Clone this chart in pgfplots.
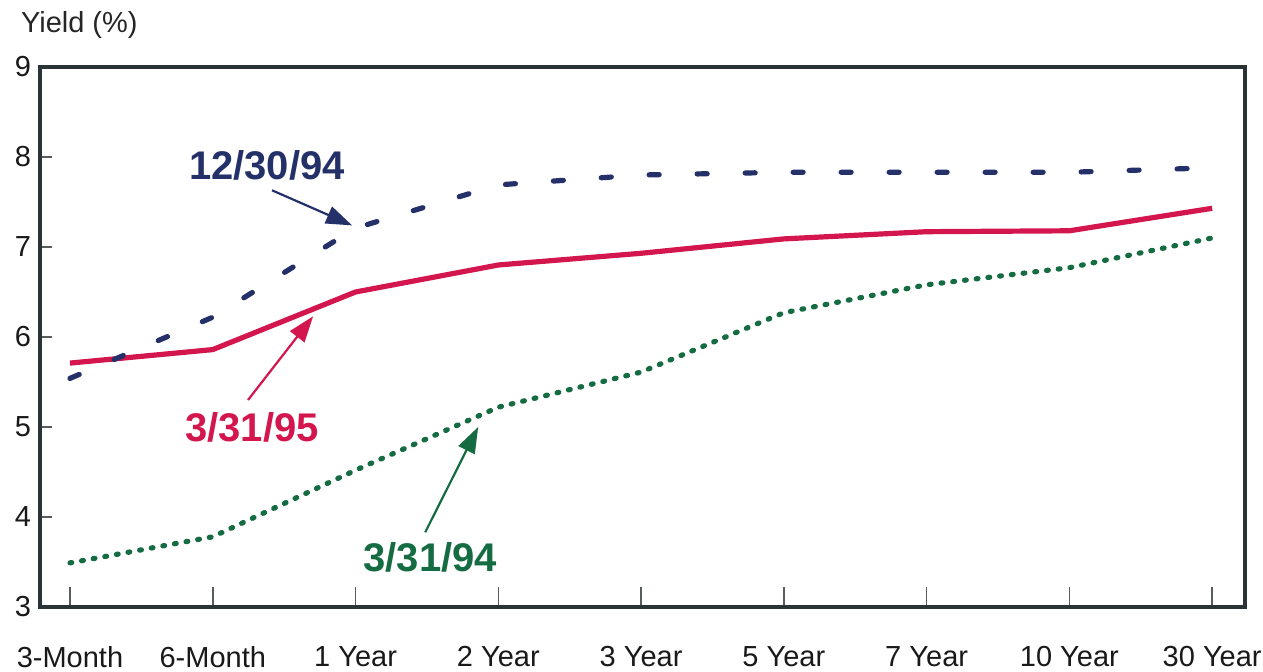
\documentclass[border=0pt]{standalone}
\usepackage{fontspec}
\setmainfont{Liberation Sans}
\usepackage{pgfplots}
\pgfplotsset{compat=1.18}
\usetikzlibrary{arrows.meta}

\definecolor{curvered}{RGB}{212,22,78}
\definecolor{curveblue}{RGB}{36,48,104}
\definecolor{curvegreen}{RGB}{22,108,66}
\definecolor{framecol}{RGB}{42,52,54}

\begin{document}
\begin{tikzpicture}
\begin{axis}[
  scale only axis,
  width=602.5pt,
  height=270pt,
  xmin=-0.21, xmax=8.23,
  ymin=3, ymax=9,
  xtick={0,...,8},
  xticklabels={3-Month,6-Month,1 Year,2 Year,3 Year,5 Year,7 Year,10 Year,30 Year},
  ytick={3,...,9},
  tick align=inside,
  xtick pos=bottom,
  ytick pos=left,
  major tick length=6pt,
  x tick style={/pgfplots/major tick length=10pt},
  tick style={line width=0.8pt, color=framecol!80},
  axis line style={line width=2pt, color=framecol},
  /pgf/number format/assume math mode=true,
  tick label style={font=\fontsize{14.5}{16}\selectfont, color=black!90},
  xticklabel style={anchor=north, yshift=-16pt},
  yticklabel style={xshift=-1pt},
  clip=false,
]
% 3/31/95
\addplot[curvered, line width=2.6pt, line join=round] coordinates {
  (0,5.71) (1,5.86) (2,6.50) (3,6.80) (4,6.93) (5,7.09) (6,7.17) (7,7.18) (8,7.43)};
% 12/30/94
\addplot[curveblue, line width=2.6pt, line cap=round, dash pattern=on 5pt off 19pt] coordinates {
  (0,5.54) (1,6.22) (2,7.21) (3,7.69) (4,7.80) (5,7.83) (6,7.83) (7,7.83) (8,7.88)};
% 3/31/94
\addplot[curvegreen, line width=2.6pt, line cap=round, dash pattern=on 0.9pt off 5pt] coordinates {
  (0,3.49) (1,3.78) (2,4.52) (3,5.22) (4,5.61) (5,6.27) (6,6.58) (7,6.77) (8,7.10)};

\node[font=\fontsize{20}{22}\selectfont\bfseries, color=curveblue] at (axis cs:1.38,7.91) {12/30/94};
\draw[curveblue, line width=1.1pt, -{Triangle[length=13pt,width=9pt]}] (axis cs:1.415,7.63) -- (axis cs:1.976,7.24);
\node[font=\fontsize{20}{22}\selectfont\bfseries, color=curvered] at (axis cs:1.275,5.0) {3/31/95};
\draw[curvered, line width=1.1pt, -{Triangle[length=13pt,width=9pt]}] (axis cs:1.247,5.30) -- (axis cs:1.703,6.23);
\node[font=\fontsize{20}{22}\selectfont\bfseries, color=curvegreen] at (axis cs:2.523,3.556) {3/31/94};
\draw[curvegreen, line width=1.1pt, -{Triangle[length=13pt,width=9pt]}] (axis cs:2.488,3.83) -- (axis cs:2.859,5.0);
\end{axis}
\node[anchor=west, font=\fontsize{14.5}{16}\selectfont, color=black!85] at (-13pt,291pt) {Yield (\%)};
\pgfresetboundingbox
\useasboundingbox (-20pt,-32.5pt) rectangle (611.5pt,303.5pt);
\end{tikzpicture}
\end{document}
